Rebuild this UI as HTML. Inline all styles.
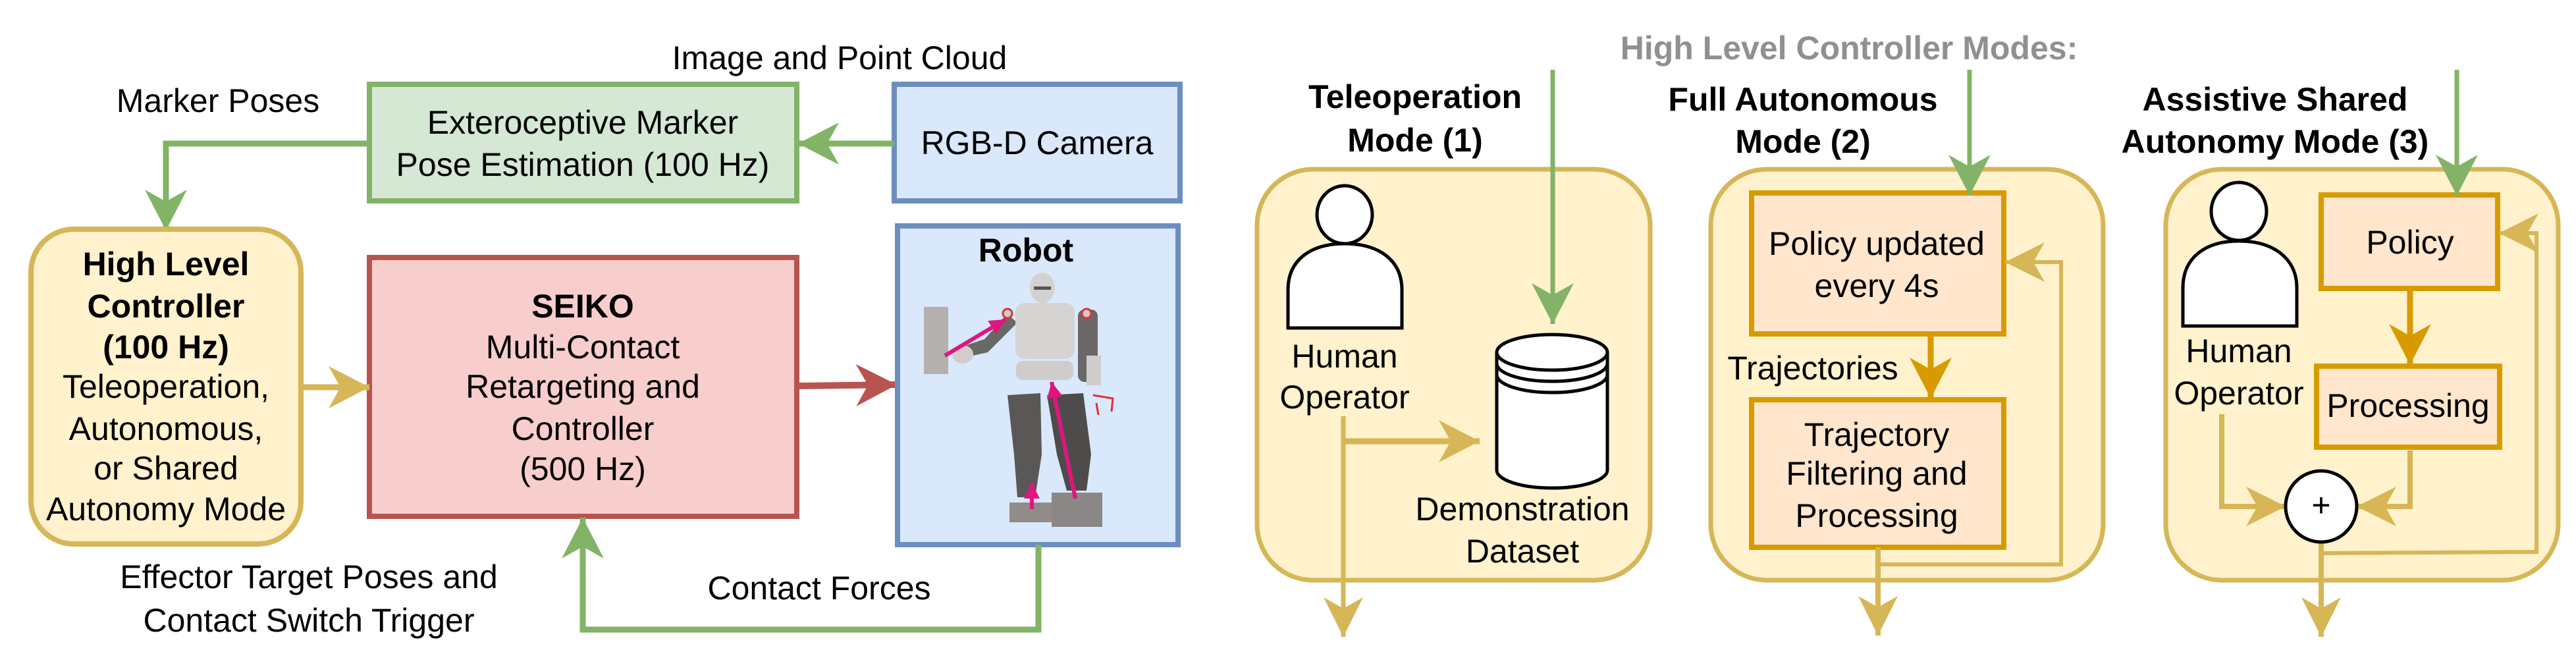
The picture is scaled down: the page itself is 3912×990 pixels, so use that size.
<!DOCTYPE html>
<html><head><meta charset="utf-8"><style>
html,body{margin:0;padding:0;background:#fff}
svg{display:block}
text{font-family:"Liberation Sans",Arial,sans-serif;font-size:50px;fill:#000;text-anchor:middle;dominant-baseline:central}
.b{font-weight:bold}
</style></head><body>
<svg width="3912" height="990" viewBox="0 0 3912 990" xmlns="http://www.w3.org/2000/svg">
<defs>
<marker id="ag" markerUnits="userSpaceOnUse" markerWidth="70" markerHeight="70" refX="62" refY="32" orient="auto"><path d="M0,0 L62,32 L0,64 L18,32 Z" fill="#82b366"/></marker>
<marker id="ay" markerUnits="userSpaceOnUse" markerWidth="70" markerHeight="70" refX="62" refY="32" orient="auto"><path d="M0,0 L62,32 L0,64 L18,32 Z" fill="#d6b656"/></marker>
<marker id="ar" markerUnits="userSpaceOnUse" markerWidth="70" markerHeight="70" refX="62" refY="32" orient="auto"><path d="M0,0 L62,32 L0,64 L18,32 Z" fill="#b85450"/></marker>
<marker id="ao" markerUnits="userSpaceOnUse" markerWidth="70" markerHeight="70" refX="62" refY="32" orient="auto"><path d="M0,0 L62,32 L0,64 L18,32 Z" fill="#d79b00"/></marker>
<marker id="ays" markerUnits="userSpaceOnUse" markerWidth="70" markerHeight="70" refX="60" refY="30" orient="auto"><path d="M0,0 L60,30 L0,60 L17,30 Z" fill="#d6b656"/></marker>
<marker id="am" markerUnits="userSpaceOnUse" markerWidth="30" markerHeight="30" refX="24" refY="12" orient="auto"><path d="M0,0 L24,12 L0,24 Z" fill="#e0157f"/></marker>
</defs>

<text x="1275" y="88">Image and Point Cloud</text>
<text x="331" y="153">Marker Poses</text>

<rect x="561" y="128" width="649" height="177" fill="#d5e8d4" stroke="#82b366" stroke-width="8"/>
<text x="885" y="186">Exteroceptive Marker</text>
<text x="885" y="250">Pose Estimation (100 Hz)</text>

<rect x="1358" y="128" width="434" height="177" fill="#dae8fc" stroke="#6c8ebf" stroke-width="8"/>
<text x="1575" y="217">RGB-D Camera</text>

<line x1="1358" y1="218" x2="1212" y2="218" stroke="#82b366" stroke-width="9" marker-end="url(#ag)"/>
<polyline points="561,218 252,218 252,350" fill="none" stroke="#82b366" stroke-width="9" marker-end="url(#ag)"/>

<rect x="47" y="348" width="410" height="478" rx="65" fill="#fff2cc" stroke="#d6b656" stroke-width="8"/>
<text x="252" y="401" class="b">High Level</text>
<text x="252" y="465" class="b">Controller</text>
<text x="252" y="527" class="b">(100 Hz)</text>
<text x="252" y="587">Teleoperation,</text>
<text x="252" y="651">Autonomous,</text>
<text x="252" y="711">or Shared</text>
<text x="252" y="773">Autonomy Mode</text>

<rect x="561" y="391" width="649" height="393" fill="#f8cecc" stroke="#b85450" stroke-width="8"/>
<text x="885" y="465" class="b">SEIKO</text>
<text x="885" y="527">Multi-Contact</text>
<text x="885" y="587">Retargeting and</text>
<text x="885" y="651">Controller</text>
<text x="885" y="712">(500 Hz)</text>

<line x1="457" y1="588" x2="561" y2="588" stroke="#d6b656" stroke-width="9" marker-end="url(#ay)"/>
<line x1="1210" y1="586" x2="1362" y2="584" stroke="#b85450" stroke-width="10" marker-end="url(#ar)"/>

<rect x="1363" y="343" width="426" height="484" fill="#dae8fc" stroke="#6c8ebf" stroke-width="8"/>
<text x="1558" y="380" class="b">Robot</text>
<g>
<rect x="1403" y="466" width="37" height="102" fill="#b3b0ae"/>
<rect x="1533" y="763" width="64" height="30" fill="#8f8c8a"/>
<rect x="1597" y="748" width="77" height="52" fill="#8a8786"/>
<path d="M1530,600 L1580,597 L1582,690 L1572,755 L1545,755 L1540,690 Z" fill="#5a5857"/>
<path d="M1590,600 L1645,597 L1657,690 L1650,745 L1620,745 L1605,690 Z" fill="#4e4c4b"/>
<rect x="1637" y="470" width="30" height="110" rx="10" fill="#6a6867"/>
<rect x="1650" y="540" width="22" height="45" fill="#cfcdcb"/>
<path d="M1530,477 L1545,490 L1500,535 L1455,545 L1450,530 L1495,515 Z" fill="#6a6867"/>
<ellipse cx="1462" cy="538" rx="16" ry="14" fill="#d0cecc"/>
<rect x="1542" y="460" width="90" height="85" rx="14" fill="#d6d4d2"/>
<rect x="1543" y="548" width="87" height="29" rx="10" fill="#cfcdcb"/>
<ellipse cx="1583" cy="437" rx="19" ry="23" fill="#d4d2d0"/>
<rect x="1570" y="435" width="26" height="5" fill="#555"/>
<circle cx="1530" cy="476" r="7" fill="#ccc" stroke="#d33" stroke-width="3"/>
<circle cx="1650" cy="476" r="7" fill="#ccc" stroke="#d33" stroke-width="3"/>
<path d="M1660,600 L1690,605 L1688,625 M1665,612 L1668,630" stroke="#d33" stroke-width="3" fill="none"/>
<line x1="1435" y1="540" x2="1527" y2="485" stroke="#e0157f" stroke-width="6" marker-end="url(#am)"/>
<line x1="1633" y1="757" x2="1597" y2="580" stroke="#e0157f" stroke-width="6" marker-end="url(#am)"/>
<line x1="1567" y1="773" x2="1567" y2="733" stroke="#e0157f" stroke-width="6" marker-end="url(#am)"/>
</g>

<polyline points="1577,827 1577,956 885,956 885,786" fill="none" stroke="#82b366" stroke-width="9" marker-end="url(#ag)"/>
<text x="469" y="876">Effector Target Poses and</text>
<text x="469" y="942">Contact Switch Trigger</text>
<text x="1244" y="893">Contact Forces</text>

<text x="2808" y="73" class="b" style="fill:#909090">High Level Controller Modes:</text>
<text x="2149" y="147" class="b">Teleoperation</text>
<text x="2149" y="213" class="b">Mode (1)</text>
<text x="2738" y="151" class="b">Full Autonomous</text>
<text x="2738" y="215" class="b">Mode (2)</text>
<text x="3455" y="151" class="b">Assistive Shared</text>
<text x="3455" y="215" class="b">Autonomy Mode (3)</text>

<rect x="1909" y="257" width="597" height="624" rx="85" fill="#fff2cc" stroke="#d6b656" stroke-width="7"/>
<rect x="2598" y="257" width="596" height="624" rx="85" fill="#fff2cc" stroke="#d6b656" stroke-width="7"/>
<rect x="3289" y="257" width="596" height="624" rx="85" fill="#fff2cc" stroke="#d6b656" stroke-width="7"/>

<ellipse cx="2042" cy="326" rx="42" ry="44" fill="#fff" stroke="#000" stroke-width="5"/>
<path d="M1956,498 L1956,440 C1956,395 1990,370 2042,370 C2094,370 2129,395 2129,440 L2129,498 Z" fill="#fff" stroke="#000" stroke-width="5"/>
<text x="2042" y="541">Human</text>
<text x="2042" y="603">Operator</text>
<path d="M2273,535 L2273,714 A84,27 0 0 0 2441,714 L2441,535 A84,27 0 0 0 2273,535 Z" fill="#fff" stroke="#000" stroke-width="5"/>
<path d="M2273,535 A84,27 0 0 0 2441,535 M2273,552 A84,27 0 0 0 2441,552 M2273,569 A84,27 0 0 0 2441,569" fill="none" stroke="#000" stroke-width="5"/>
<text x="2312" y="773">Demonstration</text>
<text x="2312" y="837">Dataset</text>
<line x1="2358" y1="106" x2="2358" y2="492" stroke="#82b366" stroke-width="7" marker-end="url(#ag)"/>
<line x1="2040" y1="632" x2="2040" y2="967" stroke="#d6b656" stroke-width="7" marker-end="url(#ays)"/>
<line x1="2040" y1="670" x2="2247" y2="670" stroke="#d6b656" stroke-width="9" marker-end="url(#ay)"/>

<rect x="2660" y="293" width="383" height="214" fill="#ffe6cc" stroke="#d79b00" stroke-width="8"/>
<text x="2850" y="370">Policy updated</text>
<text x="2850" y="434">every 4s</text>
<rect x="2660" y="607" width="383" height="224" fill="#ffe6cc" stroke="#d79b00" stroke-width="8"/>
<text x="2850" y="660">Trajectory</text>
<text x="2850" y="719">Filtering and</text>
<text x="2850" y="783">Processing</text>
<text x="2753" y="559">Trajectories</text>
<line x1="2932" y1="507" x2="2932" y2="605" stroke="#d79b00" stroke-width="9" marker-end="url(#ao)"/>
<line x1="2991" y1="106" x2="2991" y2="297" stroke="#82b366" stroke-width="7" marker-end="url(#ag)"/>
<line x1="2852" y1="831" x2="2852" y2="965" stroke="#d6b656" stroke-width="8" marker-end="url(#ays)"/>
<polyline points="2852,857 3130,857 3130,398 3045,398" fill="none" stroke="#d6b656" stroke-width="6" marker-end="url(#ays)"/>

<ellipse cx="3400" cy="321" rx="42" ry="44" fill="#fff" stroke="#000" stroke-width="5"/>
<path d="M3315,495 L3315,437 C3315,392 3348,366 3400,366 C3452,366 3488,392 3488,437 L3488,495 Z" fill="#fff" stroke="#000" stroke-width="5"/>
<text x="3400" y="533">Human</text>
<text x="3400" y="597">Operator</text>
<rect x="3525" y="296" width="268" height="142" fill="#ffe6cc" stroke="#d79b00" stroke-width="8"/>
<text x="3660" y="368">Policy</text>
<rect x="3518" y="556" width="278" height="123" fill="#ffe6cc" stroke="#d79b00" stroke-width="8"/>
<text x="3657" y="616">Processing</text>
<line x1="3660" y1="438" x2="3660" y2="554" stroke="#d79b00" stroke-width="9" marker-end="url(#ao)"/>
<line x1="3731" y1="106" x2="3731" y2="297" stroke="#82b366" stroke-width="7" marker-end="url(#ag)"/>
<polyline points="3374,629 3374,769 3471,769" fill="none" stroke="#d6b656" stroke-width="8" marker-end="url(#ays)"/>
<polyline points="3660,684 3660,769 3579,769" fill="none" stroke="#d6b656" stroke-width="8" marker-end="url(#ays)"/>
<line x1="3525" y1="823" x2="3525" y2="967" stroke="#d6b656" stroke-width="8" marker-end="url(#ays)"/>
<polyline points="3525,840 3852,838 3852,354 3795,354" fill="none" stroke="#d6b656" stroke-width="6" marker-end="url(#ays)"/>
<circle cx="3525" cy="769" r="54" fill="#fff" stroke="#000" stroke-width="5"/>
<text x="3525" y="767">+</text>
</svg>
</body></html>
